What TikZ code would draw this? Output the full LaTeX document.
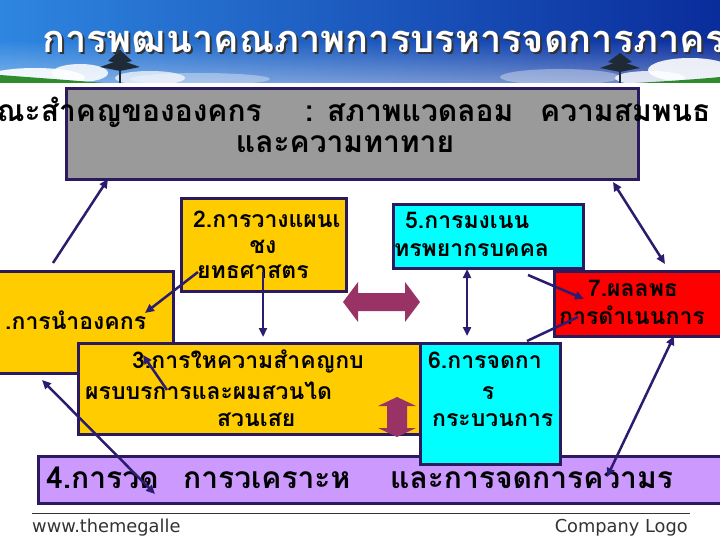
\documentclass[tikz,border=0pt]{standalone}
\usepackage{fontspec}
\setmainfont{DejaVu Sans}
\newfontfamily\thaib[Script=Thai]{Loma}
\usetikzlibrary{arrows.meta,fadings}
\definecolor{navy}{HTML}{2B1A5E}
\definecolor{arrowc}{HTML}{2B1C70}
\definecolor{boxgray}{HTML}{9A9A9A}
\definecolor{boxyel}{HTML}{FFCC00}
\definecolor{boxcyan}{HTML}{00FFFF}
\definecolor{boxred}{HTML}{FF0000}
\definecolor{boxlav}{HTML}{CC99FF}
\definecolor{fatc}{HTML}{993366}
\definecolor{skyA}{HTML}{2E86E0}
\definecolor{skyB}{HTML}{0A2C9C}
\definecolor{hillc}{HTML}{2E8B2E}
\definecolor{treec}{HTML}{1E2A36}
\definecolor{footc}{HTML}{333333}
\tikzset{
  box/.style={draw=navy,line width=3pt,inner sep=0pt,anchor=north west},
  tsm/.style={font=\thaib\bfseries\fontsize{23}{26}\selectfont,inner sep=0pt,text=black},
  tbig/.style={font=\thaib\bfseries\fontsize{30}{33}\selectfont,inner sep=0pt,text=black},
  conn/.style={draw=arrowc,line width=2.5pt,-{Triangle[length=9pt,width=8pt]}},
  conn2/.style={draw=arrowc,line width=2.5pt,{Triangle[length=9pt,width=8pt]}-{Triangle[length=9pt,width=8pt]}},
  plainc/.style={draw=arrowc,line width=2.5pt},
  foot/.style={font=\fontsize{17.8}{20}\selectfont,text=footc,inner sep=0pt}
}
\newcommand{\shadowtext}[1]{\rlap{\hspace{2pt}\raisebox{-2pt}{\color{black!80}#1}}#1}
\begin{document}
\begin{tikzpicture}[x=1pt,y=-1pt]
\useasboundingbox (0,0) rectangle (720,540);
\clip (0,0) rectangle (720,540);
\fill[white] (0,0) rectangle (720,540);
% sky header
\shade[left color=skyA,right color=skyB] (0,0) rectangle (720,83);
\fill[white,fill opacity=0.4,path fading=north] (0,40) rectangle (720,83);
\fill[white,opacity=0.35] (200,79) ellipse (70 and 6);
\fill[white,opacity=0.35] (560,77) ellipse (60 and 8);
\fill[white,opacity=0.9] (35,78) ellipse (50 and 10);
\fill[white,opacity=0.85] (80,73) ellipse (28 and 9);
\fill[white,opacity=0.7] (150,78) ellipse (35 and 7);
\fill[white,opacity=0.9] (690,70) ellipse (42 and 12);
\fill[white,opacity=0.8] (650,78) ellipse (35 and 7);
\fill[hillc] (0,75) .. controls (40,78) and (80,81) .. (105,83) -- (0,83) -- cycle;
\fill[hillc] (635,83) .. controls (670,81) and (700,79) .. (720,77) -- (720,83) -- cycle;
% trees
\draw[treec,line width=1.6pt] (120,50) -- (120,83);
\fill[treec] (100,67) -- (120,60) -- (140,67) -- (120,71) -- cycle;
\fill[treec] (108,61) -- (120,50) -- (132,61) -- (120,64) -- cycle;
\draw[treec,line width=1.6pt] (620,55) -- (620,83);
\fill[treec] (600,68) -- (620,61) -- (640,68) -- (620,72) -- cycle;
\fill[treec] (608,62) -- (620,53) -- (632,62) -- (620,65) -- cycle;
% title
\node[anchor=base west,inner sep=0pt,font=\thaib\bfseries\fontsize{38}{40}\selectfont,text=white] (title) at (42,53) {\shadowtext{การพฒนาคณภาพการบรหารจดการภาครฐ}};
% boxes
\node[box,fill=boxgray,minimum width=572pt,minimum height=91pt] (b0) at (65,87) {};
\node[box,fill=boxyel,minimum width=165pt,minimum height=93pt] (b2) at (180,197) {};
\node[box,fill=boxcyan,minimum width=190pt,minimum height=64pt] (b5) at (392,203) {};
\node[box,fill=boxred,minimum width=180pt,minimum height=65pt] (b7) at (553,270) {};
\node[box,fill=boxyel,minimum width=192pt,minimum height=102pt] (b1) at (-20,270) {};
\node[box,fill=boxyel,minimum width=343pt,minimum height=91pt] (b3) at (77,342) {};
\node[box,fill=boxlav,minimum width=700pt,minimum height=47pt] (b4) at (37,455) {};
\node[box,fill=boxcyan,minimum width=140pt,minimum height=121pt] (b6) at (419,342) {};
% gray box texts
\node[tbig,anchor=base east] (g1a) at (262,122) {ณะสำคญขององคกร};
\node[tbig,anchor=base west] (g1b) at (305,122) {: สภาพแวดลอม};
\node[tbig,anchor=base west] (g1c) at (540,122) {ความสมพนธ};
\node[tbig,anchor=base] (g2) at (345,153) {และความทาทาย};
% box 2
\node[tsm,anchor=base west] (t2a) at (193,228) {2.การวางแผนเ};
\node[tsm,anchor=base] (t2b) at (263,253) {ชง};
\node[tsm,anchor=base west] (t2c) at (197,278) {ยทธศาสตร};
% box 5
\node[tsm,anchor=base west] (t5a) at (405,229) {5.การมงเนน};
\node[tsm,anchor=base west] (t5b) at (394,256) {ทรพยากรบคคล};
% box 7
\node[tsm,anchor=base] (t7a) at (633,296) {7.ผลลพธ};
\node[tsm,anchor=base] (t7b) at (632,324) {การดำเนนการ};
% box 1
\node[tsm,anchor=base west] (t1) at (5,329) {.การนำองคกร};
% box 3
\node[tsm,anchor=base west] (t3a) at (132,368) {3.การใหความสำคญกบ};
\node[tsm,anchor=base west] (t3b) at (85,399) {ผรบบรการและผมสวนได};
\node[tsm,anchor=base west] (t3c) at (217,426) {สวนเสย};
% box 6
\node[tsm,anchor=base west] (t6a) at (428,368) {6.การจดกา};
\node[tsm,anchor=base] (t6b) at (488,399) {ร};
\node[tsm,anchor=base west] (t6c) at (432,426) {กระบวนการ};
% box 4
\node[tbig,anchor=base west] (t4a) at (46,488) {4.การวด};
\node[tbig,anchor=base west] (t4b) at (183,488) {การวเคราะห};
\node[tbig,anchor=base west] (t4c) at (390,488) {และการจดการความร};
% fat arrows
\fill[fatc] (343,302) -- (358,282) -- (358,293) -- (405,293) -- (405,282) -- (420,302) -- (405,322) -- (405,311) -- (358,311) -- (358,322) -- cycle;
\fill[fatc] (397,397) -- (416,406) -- (407,406) -- (407,428) -- (416,428) -- (397,437) -- (378,428) -- (387,428) -- (387,406) -- (378,406) -- cycle;
% connector end points
\coordinate (p1s) at (53,263);
\coordinate (p1e) at (108,179);
\coordinate (p2s) at (613,182);
\coordinate (p2e) at (665,264);
\coordinate (p3s) at (198,272);
\coordinate (p3e) at (145,313);
\coordinate (p4s) at (263,272);
\coordinate (p4e) at (263,337);
\coordinate (p6s) at (467,269);
\coordinate (p6e) at (467,336);
\coordinate (p7s) at (528,275);
\coordinate (p7e) at (584,299);
\coordinate (p8s) at (527,341);
\coordinate (p8e) at (578,317);
\coordinate (p9s) at (607,477);
\coordinate (p9e) at (674,336);
\coordinate (p10s) at (42,380);
\coordinate (p10e) at (155,494);
\coordinate (p11s) at (167,390);
\coordinate (p11e) at (143,355);
% connectors
\draw[conn] (p1s) -- (p1e);
\draw[conn2] (p2s) -- (p2e);
\draw[conn] (p3s) -- (p3e);
\draw[conn] (p4s) -- (p4e);
\draw[conn2] (p6s) -- (p6e);
\draw[conn] (p7s) -- (p7e);
\draw[plainc] (p8s) -- (p8e);
\draw[conn2] (p9s) -- (p9e);
\draw[conn2] (p10s) -- (p10e);
\draw[conn] (p11s) -- (p11e);
% footer
\coordinate (fl1) at (32,513);
\coordinate (fl2) at (690,513);
\draw[footc,line width=0.8pt] (fl1) -- (fl2);
\node[foot,anchor=base west] (fw) at (32,532) {www.themegalle};
\node[foot,anchor=base east] (fc) at (688,532) {Company Logo};
\end{tikzpicture}
\end{document}
